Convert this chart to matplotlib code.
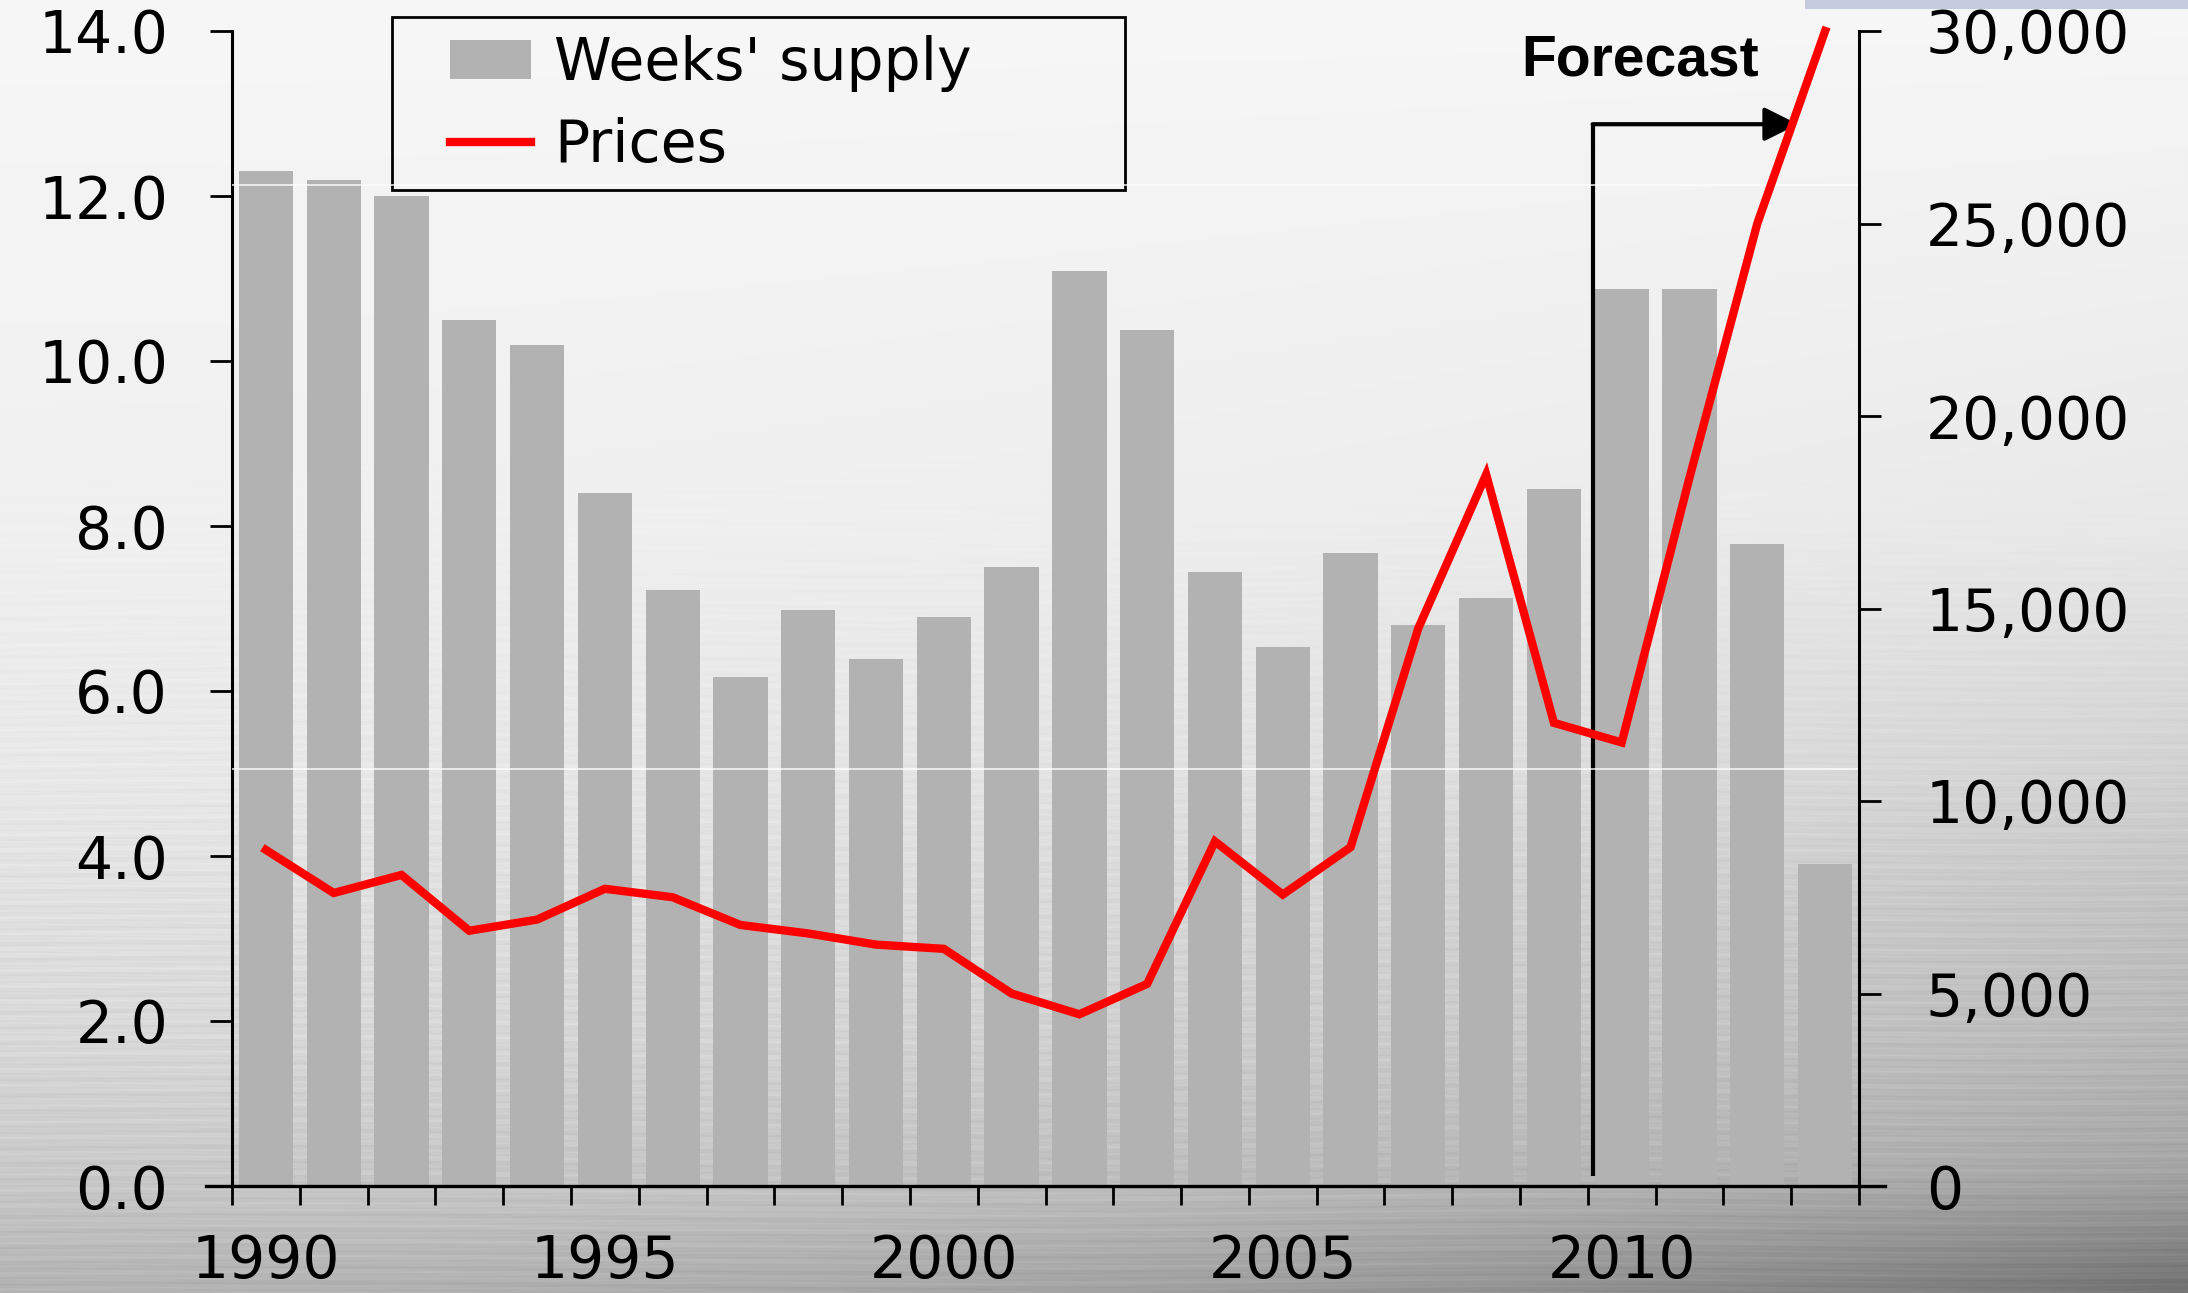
import numpy as np, matplotlib; matplotlib.use("Agg"); import matplotlib.pyplot as plt
from matplotlib.lines import Line2D

years = list(range(1990, 2014))
weeks_supply = [12.3, 12.2, 12.0, 10.5, 10.2, 8.4, 7.22, 6.17, 6.98, 6.39, 6.9, 7.5,
                11.09, 10.38, 7.44, 6.53, 7.67, 6.8, 7.13, 8.45, 10.87, 10.87, 7.78, 3.9]
prices = [8730, 7610, 8080, 6630, 6920, 7720, 7500, 6780, 6560, 6270, 6160, 5000,
          4460, 5250, 8950, 7570, 8800, 14490, 18480, 12030, 11520, 18400, 25000, 30000]
year_labels = [1990, 1995, 2000, 2005, 2010]
left_ticks = np.arange(0, 14.1, 2.0)
right_ticks = np.arange(0, 30001, 5000)

plt.rcParams['font.family'] = ['DejaVu Sans']
FS = 42
W, H = 2188, 1293
fig = plt.figure(figsize=(W / 100, H / 100), dpi=100)
fig.patch.set_visible(False)

# grey slide backdrop: light at top, darker streaky water towards the bottom right
bg = fig.add_axes([0, 0, 1, 1], zorder=-5)
yy, xx = np.mgrid[0:H, 0:W // 4]
xf = xx / (W // 4); yf = yy / H
base = np.interp(yf, [0, .4, .6, .8, .92, 1], [.965, .94, .91, .85, .78, .70])
base -= xf ** 2 * np.interp(yf, [0, .4, .7, .9, 1], [0, .03, .12, .14, .26])
streak = (np.sin(yy * 0.83 + 2.5 * np.sin(xx * 0.021)) * 0.012
          + np.sin(yy * 0.37 + 1.7 * np.sin(xx * 0.013 + 1.0)) * 0.010
          + np.sin(yy * 1.91 + 3.1 * np.sin(xx * 0.031 + 2.0)) * 0.008)
base += streak * np.clip((yf - .35) / .4, 0, 1)
bg.imshow(np.clip(base, 0, 1), cmap='gray', vmin=0, vmax=1, aspect='auto',
          extent=[0, 1, 0, 1], interpolation='bilinear')
bg.add_patch(plt.Rectangle((0.825, 0.993), 0.2, 0.01, color='#c3cbdc', lw=0))
bg.add_patch(plt.Rectangle((392 / W, 1 - 190 / H), (1125 - 392) / W, 173 / H,
                           fill=False, edgecolor='black', lw=2))
bg.set_xlim(0, 1); bg.set_ylim(0, 1); bg.axis('off')

ax = fig.add_axes([232 / W, 107 / H, (1859 - 232) / W, (1186 - 31) / H])
ax.patch.set_visible(False)
x = np.arange(len(years))
ax.bar(x, weeks_supply, width=0.8, color='#b2b2b2', zorder=2, label="Weeks' supply")
ax.set_xlim(-0.5, len(years) - 0.5)
ax.set_ylim(0, 14)

# faint light rules running across the bars
for v in (5.06, 12.13):
    ax.axhline(v, color='white', lw=1.2, alpha=0.85, zorder=4)

# forecast marker: bracket with arrow pointing to the forecast years
ax.plot([19.57, 19.57], [0.12, 12.87], color='black', lw=3, zorder=3,
        solid_capstyle='butt')
ax.annotate('', xy=(22.6, 12.87), xytext=(19.57, 12.87),
            arrowprops=dict(arrowstyle='-|>,head_length=0.8,head_width=0.4',
                            mutation_scale=26, color='black', lw=3,
                            shrinkA=0, shrinkB=0), zorder=3)
fig.text(1521 / W, 1 - 76 / H, 'Forecast', fontsize=41, fontweight='bold',
         family=['Liberation Sans', 'DejaVu Sans'], va='baseline', ha='left')

ax2 = ax.twinx()
ax2.plot(x, prices, color='#ff0000', lw=6, zorder=5, clip_on=False,
         solid_joinstyle='miter', label='Prices')
ax2.set_ylim(0, 30000)

for a in (ax, ax2):
    for s in ('top', 'bottom'):
        a.spines[s].set_visible(False)
    for s in ('left', 'right'):
        a.spines[s].set_linewidth(2.2)

ax2.spines['left'].set_visible(False)
ax.spines['right'].set_visible(False)

ax.set_yticks(left_ticks, [f'{v:.1f}' for v in left_ticks])
ax.tick_params(axis='y', length=16, width=2, pad=30, labelsize=FS)
ax2.set_yticks(right_ticks, [f'{v:,.0f}' for v in right_ticks])
ax2.tick_params(axis='y', length=16, width=2, pad=32, labelsize=FS)

ax.set_xticks(np.arange(-0.5, len(years)), [''] * (len(years) + 1))
ax.set_xticks([years.index(y) for y in year_labels], [str(y) for y in year_labels], minor=True)
ax.tick_params(axis='x', which='major', direction='out', length=14, width=2)
ax.tick_params(axis='x', which='minor', length=0, pad=34, labelsize=FS)

# baseline runs a little past both vertical axes
ax.add_line(Line2D([-0.5 - 0.38, len(years) - 0.5 + 0.38], [0, 0], color='black',
                   lw=2.4, clip_on=False, zorder=6))

# legend entries sit inside the framed box drawn on the backdrop
leg = fig.legend(handles=[ax.patches[0], ax2.lines[0]], labels=["Weeks' supply", 'Prices'],
                 loc='upper left', bbox_to_anchor=(450 / W, 1 - 35 / H),
                 fontsize=FS, frameon=False, handlelength=1.39,
                 handleheight=0.65, handletextpad=0.4, labelspacing=0.43,
                 borderpad=0, borderaxespad=0)

fig.savefig('out.png', dpi=100)
